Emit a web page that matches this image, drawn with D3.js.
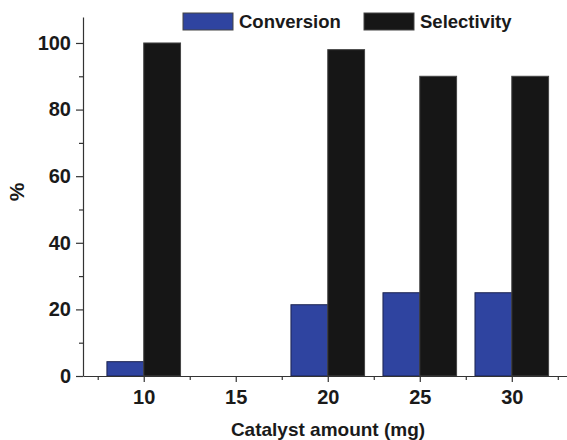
<!DOCTYPE html>
<html>
<head>
<meta charset="utf-8">
<script src="https://cdn.jsdelivr.net/npm/d3@7"></script>
<style>
  body { margin: 0; background: #fff; }
  svg text { font-family: "Liberation Sans", Arial, sans-serif; font-weight: bold; fill: #1a1a1a; }
  .axis path, .axis line { stroke: #333; stroke-width: 1.2; }
</style>
</head>
<body>
<svg id="chart" width="567" height="440"></svg>
<script>
// data
var amounts = [10, 15, 20, 25, 30];
var conversion = [4.3, 0, 21.4, 25, 25];
var selectivity = [100, 0, 98, 90, 90];
var seriesNames = ["Conversion", "Selectivity"];
var seriesColors = ["#2f44a0", "#161616"];
var yTicks = [0, 20, 40, 60, 80, 100];

var svg = d3.select("#chart"),
    MARGINS = { top: 17, right: 0, bottom: 64, left: 83 },
    WIDTH = 567, HEIGHT = 440;

var xScale = d3.scaleLinear().domain([6.7, 33]).range([MARGINS.left, WIDTH - MARGINS.right]);
var yScale = d3.scaleLinear().domain([0, 107.8]).range([376, MARGINS.top]);

// minor ticks first
svg.append("g")
   .attr("class", "axis")
   .attr("transform", "translate(0,376)")
   .call(d3.axisBottom(xScale).tickValues([7.5, 12.5, 17.5, 22.5, 27.5, 32.5]).tickSize(4).tickFormat(""))
   .select(".domain").remove();

svg.append("g")
   .attr("class", "axis")
   .attr("transform", "translate(" + MARGINS.left + ",0)")
   .call(d3.axisLeft(yScale).tickValues([10, 30, 50, 70, 90]).tickSize(4).tickFormat(""))
   .select(".domain").remove();

// bars
var barW = xScale(2) - xScale(0);
var groups = [conversion, selectivity];
groups.forEach(function(vals, s) {
    svg.selectAll(".bar" + s)
       .data(amounts)
       .enter().append("rect")
       .attr("class", "bar" + s)
       .attr("x", function(d) { return s === 0 ? xScale(d - 2) : xScale(d); })
       .attr("width", barW)
       .attr("y", function(d, i) { return yScale(vals[i]); })
       .attr("height", function(d, i) { return 376 - yScale(vals[i]); })
       .attr("fill", seriesColors[s])
       .attr("stroke", s === 0 ? "#1c2350" : "#444")
       .attr("stroke-width", 1)
       .style("display", function(d, i) { return vals[i] > 0 ? null : "none"; });
});

// axes
var xAxis = svg.append("g")
   .attr("class", "axis")
   .attr("transform", "translate(0,376)")
   .call(d3.axisBottom(xScale).tickValues(amounts).tickSize(6).tickSizeOuter(0).tickPadding(8));
xAxis.selectAll("text").style("font-size", "20px");

var yAxis = svg.append("g")
   .attr("class", "axis")
   .attr("transform", "translate(" + MARGINS.left + ",0)")
   .call(d3.axisLeft(yScale).tickValues(yTicks).tickSize(7).tickSizeOuter(0).tickPadding(5));
yAxis.selectAll("text").style("font-size", "20px");

// titles
svg.append("text")
   .attr("x", 328).attr("y", 436)
   .attr("text-anchor", "middle")
   .style("font-size", "19px")
   .text("Catalyst amount (mg)");

svg.append("text")
   .attr("transform", "translate(24,192) rotate(-90)")
   .attr("text-anchor", "middle")
   .style("font-size", "21px")
   .text("%");

// legend
var legendX = [183, 364];
seriesNames.forEach(function(name, i) {
    svg.append("rect")
       .attr("x", legendX[i]).attr("y", 13)
       .attr("width", 50).attr("height", 17)
       .attr("fill", seriesColors[i])
       .attr("stroke", "#444");
    svg.append("text")
       .attr("x", legendX[i] + 56).attr("y", 28)
       .style("font-size", "18.5px")
       .text(name);
});
</script>
</body>
</html>
